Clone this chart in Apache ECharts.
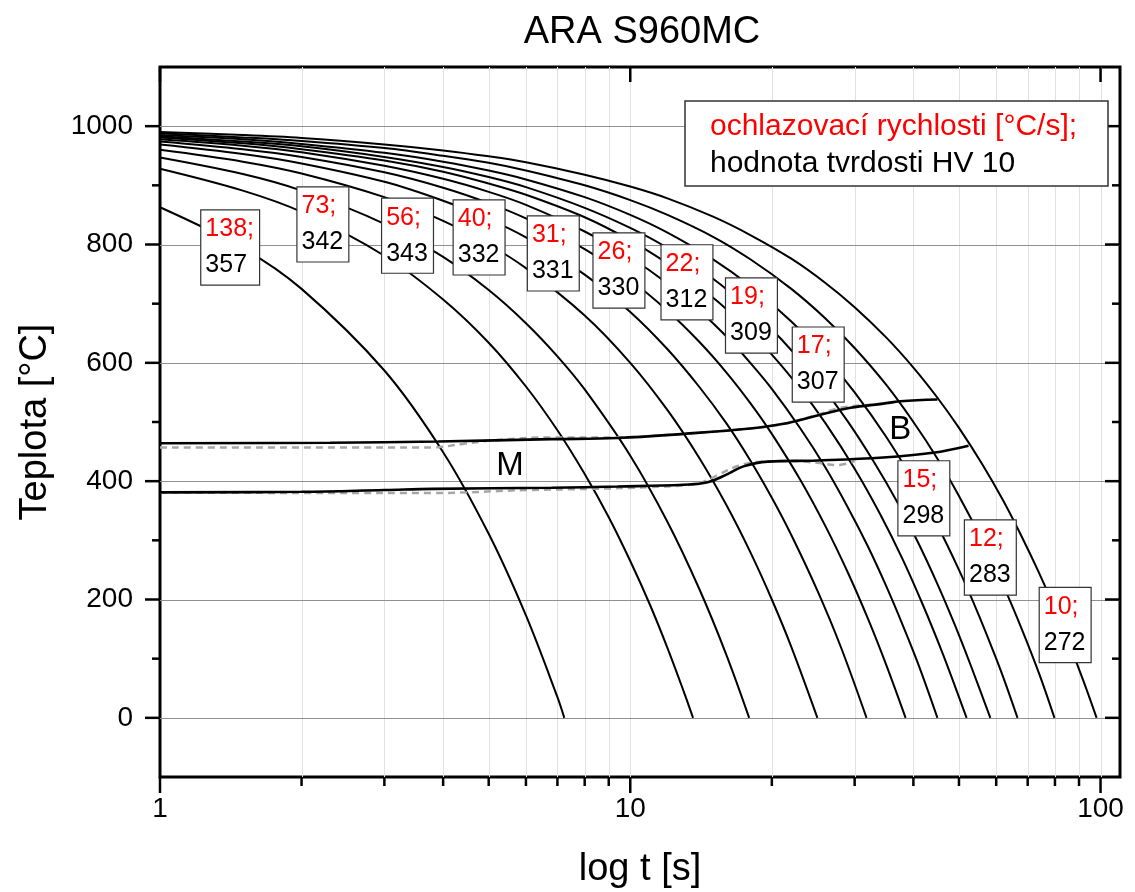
<!DOCTYPE html>
<html><head><meta charset="utf-8">
<script src="https://cdn.jsdelivr.net/npm/echarts@6/dist/echarts.min.js"></script>
<style>html,body{margin:0;padding:0;background:#fff}#c{width:1135px;height:892px}</style>
</head><body><div id="c"></div>
<script>
const FONT = "'Liberation Sans', Arial, Helvetica, sans-serif";

// cooling rates [°C/s] and hardness HV 10 (one per cooling curve)
const rates = [138, 73, 56, 40, 31, 26, 22, 19, 17, 15, 12, 10];
const hardness = [357, 342, 343, 332, 331, 330, 312, 309, 307, 298, 283, 272];

// cooling curves [t (s), T (°C)]
const curve138 = [[1,863],[1.5,794],[2,725],[3,587],[4,449],[5,311],[6,173],[7,35],[7.24,0]];
const curve73 = [[1,928],[1.5,891],[2,855],[3,781],[4,707],[5,634],[6,560],[7,486],[8,412],[9,339],[10,265],[11,192],[12,118],[13,44],[13.6,0]];
const curve56 = [[1,947],[1.5,919],[2,891],[3,835],[4,779],[5,723],[6,667],[7,611],[8,555],[10,443],[12,331],[14,219],[16,107],[17.9,0]];
const curve40 = [[1,960],[1.5,940],[2,920],[3,880],[4,840],[5,800],[6,760],[8,680],[10,600],[12,520],[14,440],[16,360],[18,280],[20,200],[22,120],[25,0]];
const curve31 = [[1,969],[1.5,953],[2,937],[3,906],[4,874],[5,843],[6,812],[8,749],[10,686],[12,623],[14,560],[16,498],[18,435],[20,372],[22,309],[25,215],[28,121],[31.8,0]];
const curve26 = [[1,974],[1.5,961],[2,948],[3,922],[4,896],[5,870],[6,844],[8,792],[10,740],[12,688],[14,636],[16,584],[18,532],[20,480],[23,402],[26,324],[29,246],[32,168],[35,90],[38.5,0]];
const curve22 = [[1,978],[1.5,967],[2,956],[3,933],[4,911],[5,889],[6,867],[8,822],[10,778],[12,734],[14,689],[16,645],[18,600],[20,556],[23,489],[26,423],[29,356],[32,290],[35,223],[38,156],[41,90],[45,0]];
const curve19 = [[1,981],[1.5,971],[2,961],[3,942],[4,923],[5,903],[6,884],[8,846],[10,807],[12,768],[14,730],[17,672],[20,614],[23,556],[26,498],[30,421],[34,344],[38,267],[42,189],[46,112],[49,54],[51.9,0]];
const curve17 = [[1,983],[1.5,974],[2,966],[3,948],[4,931],[5,914],[6,897],[8,862],[10,828],[12,794],[15,742],[18,690],[21,639],[25,570],[29,501],[33,432],[37,364],[41,295],[45,226],[49,157],[53,88],[58.3,0]];
const curve15 = [[1,985],[1.5,978],[2,970],[3,955],[4,940],[5,925],[6,910],[8,880],[10,850],[12,820],[15,775],[18,730],[22,670],[26,610],[30,550],[35,475],[40,400],[45,325],[50,250],[55,175],[60,100],[63,55],[66.6,0]];
const curve12 = [[1,988],[1.5,981],[2,975],[3,963],[4,950],[5,938],[6,925],[8,900],[10,875],[12,850],[15,813],[18,775],[22,725],[26,675],[30,625],[35,563],[40,500],[45,438],[50,375],[56,300],[62,225],[68,150],[74,75],[79.8,0]];
const curve10 = [[1,990],[1.5,985],[2,980],[3,969],[4,959],[5,949],[6,939],[8,918],[10,898],[12,878],[15,847],[18,816],[22,776],[26,735],[30,694],[35,643],[40,592],[45,541],[50,490],[56,429],[62,368],[68,306],[74,245],[80,184],[86,123],[92,62],[98.1,0]];
const coolingCurves = [curve138, curve73, curve56, curve40, curve31, curve26, curve22, curve19, curve17, curve15, curve12, curve10];

// transformation start lines
const bainiteStart = [[1,464],[2.3,465],[3.9,467],[6.8,471],[9.4,473],[13,480],[18,489],[21.2,497],[25,511],[29.4,524],[34.5,531],[37.5,535],[45,538]];
const martensiteStart = [[1,381],[2,382],[3,385],[3.8,387],[6.8,389],[9.4,391],[13,394],[14.6,398],[16.1,412],[17.4,425],[19.6,433],[25,435],[34.5,440],[44,448],[52.4,460]];
const bainiteStartAlt = [[1,457],[3.8,457],[4.4,463],[5.3,470],[6.9,474],[9,474],[13,480],[18,489],[21.2,497],[25,512],[28,524],[34.5,531],[37.5,535]];
const martensiteStartAlt = [[1,381],[2.3,380],[3.8,380],[6,385],[8.3,387],[11,390],[13,393],[14.2,398],[15.5,412],[17,426],[19,433],[22,434],[25,431],[27.5,427],[30,434]];

// label anchors [t, T]
const labelAnchors = [[1.41,795],[2.22,834],[3.36,815],[4.77,812],[6.86,785],[9.46,756],[13.2,736],[18.1,680],[25.1,597],[42.1,371],[58.3,271],[84.1,157]];
const phaseLabels = [['M', 5.55, 425], ['B', 37.5, 486]];

// axes
const xMin = 1, xMax = 110, yMin = -100, yMax = 1100;
const xMajorTicks = [1, 10, 100];
const xMinorTicks = [2,3,4,5,6,7,8,9,20,30,40,50,60,70,80,90];
const yMajorTicks = [0, 200, 400, 600, 800, 1000];
const yMinorTicks = [100, 300, 500, 700, 900];

function renderGuides(params, api) {
  const ch = [];
  const yb = api.coord([xMin, yMin])[1], yt = api.coord([xMin, yMax])[1];
  const xl = api.coord([xMin, 0])[0], xr = api.coord([xMax, 0])[0];
  const px = v => Math.round(v) + 0.5;
  const line = (x1, y1, x2, y2, stroke, w) => ch.push({type: 'line', shape: {x1, y1, x2, y2}, style: {stroke, lineWidth: w}, silent: true});
  xMinorTicks.concat([10, 100]).forEach(t => { const x = px(api.coord([t, 0])[0]); line(x, yt, x, yb, '#e2e2e2', 1); });
  yMajorTicks.forEach(v => { const y = px(api.coord([xMin, v])[1]); line(xl, y, xr, y, '#909090', 1.2); });
  xMajorTicks.forEach(t => { const x = api.coord([t, 0])[0]; line(x, yb, x, yb + 16, '#000', 2.5); line(x, yt, x, yt + 15, '#000', 2.5); });
  xMinorTicks.forEach(t => { const x = api.coord([t, 0])[0]; line(x, yb, x, yb + 9, '#000', 2.5); });
  yMajorTicks.forEach(v => { const y = api.coord([xMin, v])[1]; line(xl - 15, y, xl, y, '#000', 2.5); line(xr - 15, y, xr, y, '#000', 2.5); });
  yMinorTicks.forEach(v => { const y = api.coord([xMin, v])[1]; line(xl - 8, y, xl, y, '#000', 2.5); line(xr - 8, y, xr, y, '#000', 2.5); });
  return {type: 'group', children: ch};
}

const series = [];
series.push({type: 'custom', name: 'guides', renderItem: renderGuides, data: [[1, 0]], z: 1, silent: true, clip: false});
coolingCurves.forEach((c, i) => series.push({
  type: 'line', name: 'v' + rates[i], data: c, smooth: 0.35, showSymbol: false, symbol: 'none',
  lineStyle: {color: '#000', width: 2}, z: 3, silent: true
}));
[bainiteStartAlt, martensiteStartAlt].forEach(d => series.push({
  type: 'line', data: d, smooth: 0.4, symbol: 'none', z: 3, silent: true,
  lineStyle: {color: '#a6a6a6', width: 2.5, type: [7, 5]}
}));
[bainiteStart, martensiteStart].forEach(d => series.push({
  type: 'line', data: d, smooth: 0.4, symbol: 'none', z: 4, silent: true,
  lineStyle: {color: '#000', width: 2.6}
}));
series.push({
  type: 'scatter', data: labelAnchors, symbolSize: 2, itemStyle: {color: 'rgba(0,0,0,0)', opacity: 1}, z: 6, silent: true,
  label: {
    show: true, position: 'inside', opacity: 1,
    formatter: p => '{r|' + rates[p.dataIndex] + ';}\n{k|' + hardness[p.dataIndex] + '}',
    backgroundColor: '#fff', borderColor: '#333', borderWidth: 1.2, padding: [1, 5, 1, 4],
    rich: {
      r: {color: '#ff0000', fontSize: 25, lineHeight: 36, fontFamily: FONT, align: 'left'},
      k: {color: '#000', fontSize: 25, lineHeight: 36, fontFamily: FONT, align: 'left'}
    }
  }
});
series.push({
  type: 'scatter', data: phaseLabels.map(p => [p[1], p[2], p[0]]), symbolSize: 2, itemStyle: {color: 'rgba(0,0,0,0)', opacity: 1}, z: 6, silent: true,
  label: {show: true, position: 'inside', opacity: 1, formatter: p => p.data[2], color: '#000', fontFamily: FONT,
    fontSize: 33}
});

const chart = echarts.init(document.getElementById('c'), null, {renderer: 'canvas'});
chart.setOption({
  animation: false,
  backgroundColor: '#fff',
  grid: {left: 160, top: 67, width: 960, height: 710, show: true, borderColor: '#000', borderWidth: 3,
    backgroundColor: 'transparent', containLabel: false, outerBoundsMode: 'none'},
  xAxis: {
    type: 'log', logBase: 10, min: xMin, max: xMax,
    name: 'log t [s]', nameLocation: 'middle', nameGap: 74, nameMoveOverlap: false,
    nameTextStyle: {fontSize: 38, color: '#000', fontFamily: FONT},
    axisLine: {show: false}, axisTick: {show: false}, splitLine: {show: false}, minorSplitLine: {show: false},
    axisLabel: {color: '#000', fontSize: 28, fontFamily: FONT, margin: 18,
      formatter: v => { const l = Math.log10(v); return Math.abs(l - Math.round(l)) < 1e-6 ? String(Math.round(v)) : ''; }}
  },
  yAxis: {
    type: 'value', min: yMin, max: yMax, interval: 100,
    name: 'Teplota [°C]', nameLocation: 'middle', nameGap: 105, nameMoveOverlap: false,
    nameTextStyle: {fontSize: 38, color: '#000', fontFamily: FONT},
    axisLine: {show: false}, axisTick: {show: false}, splitLine: {show: false},
    axisLabel: {color: '#000', fontSize: 28, fontFamily: FONT, margin: 27,
      formatter: v => (v >= 0 && v <= 1000 && v % 200 === 0) ? String(v) : ''}
  },
  graphic: [
    {type: 'text', x: 642, y: 33, silent: true,
      style: {text: 'ARA S960MC', fontSize: 38, fontFamily: FONT, fill: '#000', align: 'center', verticalAlign: 'middle'}},
    {type: 'rect', x: 685, y: 101, z: 10, silent: true, shape: {width: 423, height: 85},
      style: {fill: '#fff', stroke: '#333', lineWidth: 1.5}},
    {type: 'text', x: 710, y: 127, z: 11, silent: true,
      style: {text: 'ochlazovací rychlosti [°C/s];', fontSize: 30, fontFamily: FONT, fill: '#ff0000', verticalAlign: 'middle'}},
    {type: 'text', x: 710, y: 164, z: 11, silent: true,
      style: {text: 'hodnota tvrdosti HV 10', fontSize: 30, fontFamily: FONT, fill: '#000', verticalAlign: 'middle'}}
  ],
  series
});
</script></body></html>
